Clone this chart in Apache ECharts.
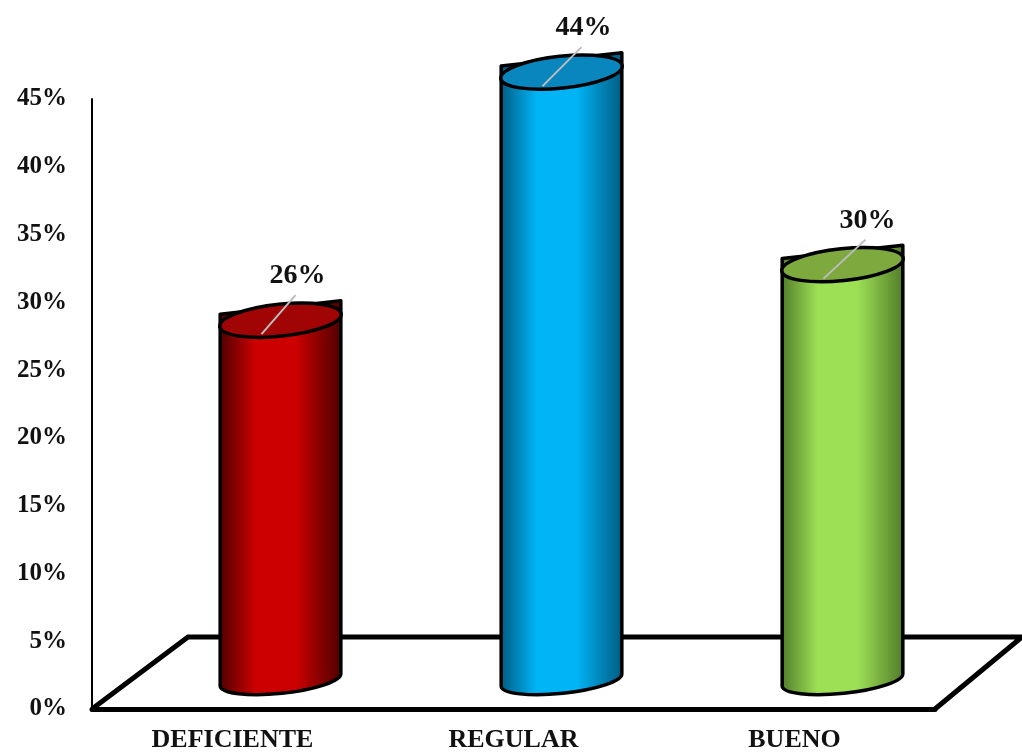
<!DOCTYPE html>
<html><head><meta charset="utf-8">
<style>html,body{margin:0;padding:0;background:#fff}#c{width:1022px;height:753px}</style>
<script src="https://cdn.jsdelivr.net/npm/echarts@6/dist/echarts.min.js"></script>
</head><body><div id="c"></div>
<script>
const categories = ['DEFICIENTE', 'REGULAR', 'BUENO'];
const values = [26.1, 44.4, 30.2];
const yTicks = [0, 5, 10, 15, 20, 25, 30, 35, 40, 45];

const palettes = [
  { edge: '#4a0000', mid: '#cc0000', top: '#a00404' },
  { edge: '#00597f', mid: '#00b4f5', top: '#0a86bf' },
  { edge: '#4f7a28', mid: '#9ddf55', top: '#7ea93f' }
];
const labelNudge = [-5, 0, 3];
const FONT = '"Liberation Serif","Times New Roman",serif';
const DX = 48, DY = -35, RX = 61, RY = 13, TILT = 6;

function cylinder(params, api) {
  const i = api.value(0);
  const base = api.coord([i, 0]);
  const top = api.coord([i, api.value(1)]);
  const cx = base[0] + DX, by = base[1] + DY, ty = top[1] + DY;
  const ex = RX * Math.cos(TILT * Math.PI / 180), ey = RX * Math.sin(TILT * Math.PI / 180);
  const p = palettes[i];
  const arc = (x, y) => `A${RX} ${RY} ${-TILT} 1 0 ${x} ${y}`;
  const side = `M${cx - ex} ${ty + ey}L${cx - ex} ${by + ey}${arc(cx + ex, by - ey)}L${cx + ex} ${ty - ey}Z`;
  const cap = `M${cx - ex} ${ty + ey}${arc(cx + ex, ty - ey)}A${RX} ${RY} ${-TILT} 1 0 ${cx - ex} ${ty + ey}Z`;
  const n = labelNudge[i];
  return {
    type: 'group',
    children: [
      { type: 'path', shape: { pathData: side, layout: 'cover', x: cx - ex, y: ty - ey - RY, width: 2 * ex, height: by - ty + 2 * ey + 2 * RY },
        style: { lineWidth: 3.5, stroke: '#000', lineJoin: 'round',
          fill: { type: 'linear', x: 0, y: 0, x2: 1, y2: 0, colorStops: [
            { offset: 0, color: p.edge }, { offset: 0.3, color: p.mid }, { offset: 0.62, color: p.mid }, { offset: 1, color: p.edge }] } } },
      { type: 'path', shape: { pathData: cap, layout: 'cover', x: cx - RX, y: ty - 16, width: 2 * RX, height: 32 },
        style: { fill: p.top, stroke: '#000', lineWidth: 3.5 } },
      { type: 'line', shape: { x1: cx - 19, y1: ty + 14, x2: cx + 20 + n, y2: ty - 25 }, style: { stroke: '#bdbdbd', lineWidth: 2 } },
      { type: 'text', style: { text: Math.round(api.value(1)) + '%', x: cx + 22 + n, y: ty - 44, align: 'center', verticalAlign: 'middle',
        font: 'bold 28px ' + FONT, fill: '#111' } }
    ]
  };
}

function floor(params) {
  const g = params.coordSys;
  const fx = g.x, fy = g.y + g.height, b = fy - 72;
  return {
    type: 'polyline',
    shape: { points: [[fx, fy], [fx + 96, b], [fx + g.width + 87, b], [fx + g.width, fy]] },
    style: { fill: 'none', stroke: '#000', lineWidth: 5, lineJoin: 'miter' }
  };
}

const chart = echarts.init(document.getElementById('c'), null, { renderer: 'canvas' });
chart.setOption({
  animation: false,
  backgroundColor: '#fff',
  grid: { left: 92, right: 87, top: 99, bottom: 40 },
  xAxis: {
    type: 'category', data: categories,
    axisLine: { lineStyle: { color: '#000', width: 5 } },
    axisTick: { show: false },
    axisLabel: { interval: 0, margin: 18, color: '#111', fontFamily: FONT, fontWeight: 'bold', fontSize: 26 }
  },
  yAxis: {
    type: 'value', min: 0, max: 45, interval: 5,
    axisLine: { show: true, lineStyle: { color: '#000', width: 2 } },
    axisTick: { show: false },
    splitLine: { show: false },
    axisLabel: { margin: 25, color: '#111', fontFamily: FONT, fontWeight: 'bold', fontSize: 25, formatter: v => v + '%' }
  },
  series: [
    { type: 'custom', clip: false, z: 1, silent: true, renderItem: floor, data: [[0, 0]] },
    { type: 'custom', clip: false, z: 2, silent: true, renderItem: cylinder,
      encode: { x: 0, y: 1 }, data: values.map((v, i) => [i, v]) }
  ]
});
</script></body></html>
